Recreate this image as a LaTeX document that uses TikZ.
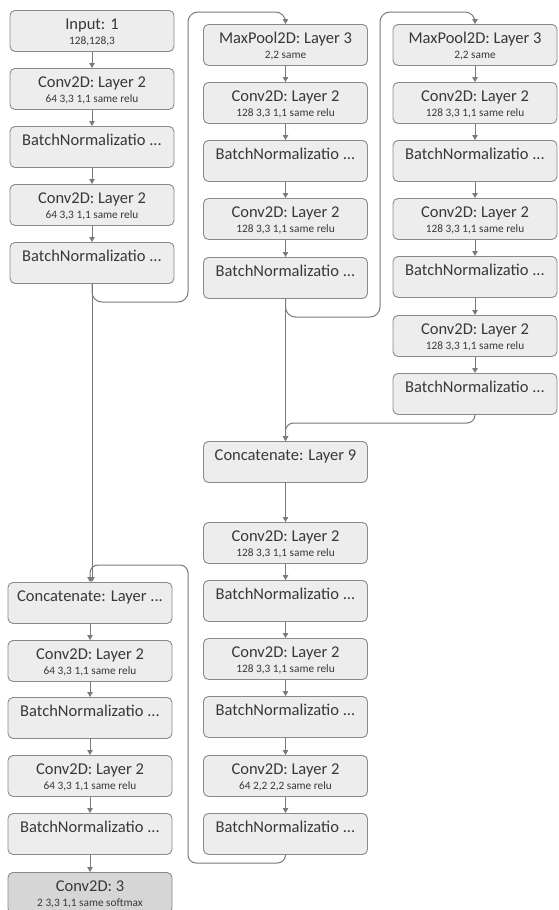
\documentclass[tikz,border=0pt]{standalone}
\usepackage{fontspec}
\setmainfont{Carlito}
\usetikzlibrary{arrows.meta}

\definecolor{boxfill}{HTML}{EDEDED}
\definecolor{boxline}{HTML}{8A8A8A}
\definecolor{outfill}{HTML}{D6D6D6}
\definecolor{wire}{HTML}{7A7A7A}
\definecolor{ink}{HTML}{383838}

\tikzset{
  layerbox/.style={draw=boxline, fill=boxfill, rounded corners=5pt,
    minimum width=164pt, minimum height=41pt, inner sep=0pt,
    anchor=north, line width=0.9pt},
  outbox/.style={layerbox, fill=outfill},
  ttl/.style={anchor=base, inner sep=0pt, text=ink,
    font=\fontsize{16.5}{18}\selectfont},
  subttl/.style={anchor=base, inner sep=0pt, text=ink,
    font=\fontsize{11.3}{12}\selectfont},
  flow/.style={draw=wire, line width=1pt,
    -{Triangle[length=5pt,width=5.5pt]}},
  loopwire/.style={flow, rounded corners=10pt},
  shortloop/.style={flow, rounded corners=8pt},
}

% layer box with a title line; \layerargs adds the parameter line
\newcommand\layer[5][layerbox]{%
  \node[#1] (#2) at (#3,#4) {};
  \node[ttl] (#2-t) at ([yshift=-19pt]#2.north) {#5};
}
\newcommand\layerargs[2]{%
  \node[subttl] (#1-s) at ([yshift=-34pt]#1.north) {#2};
}

\begin{document}
\begin{tikzpicture}[x=1pt,y=-1pt]
\useasboundingbox[fill=white] (0,0) rectangle (558,910);

% ---- encoder, first stage
\layer{in1}{92}{10}{Input: 1}\layerargs{in1}{128,128,3}
\layer{c1a}{92}{68}{Conv2D: Layer 2}\layerargs{c1a}{64 3,3 1,1 same relu}
\layer{b1a}{92}{126}{BatchNormalizatio ...}
\layer{c1b}{92}{184}{Conv2D: Layer 2}\layerargs{c1b}{64 3,3 1,1 same relu}
\layer{b1b}{92}{242}{BatchNormalizatio ...}

% ---- second stage
\layer{mp2}{285.5}{24}{MaxPool2D: Layer 3}\layerargs{mp2}{2,2 same}
\layer{c2a}{285.5}{82}{Conv2D: Layer 2}\layerargs{c2a}{128 3,3 1,1 same relu}
\layer{b2a}{285.5}{140}{BatchNormalizatio ...}
\layer{c2b}{285.5}{198}{Conv2D: Layer 2}\layerargs{c2b}{128 3,3 1,1 same relu}
\layer{b2b}{285.5}{257}{BatchNormalizatio ...}

% ---- third stage
\layer{mp3}{475}{24}{MaxPool2D: Layer 3}\layerargs{mp3}{2,2 same}
\layer{c3a}{475}{82}{Conv2D: Layer 2}\layerargs{c3a}{128 3,3 1,1 same relu}
\layer{b3a}{475}{140}{BatchNormalizatio ...}
\layer{c3b}{475}{198}{Conv2D: Layer 2}\layerargs{c3b}{128 3,3 1,1 same relu}
\layer{b3b}{475}{256}{BatchNormalizatio ...}
\layer{c3c}{475}{315}{Conv2D: Layer 2}\layerargs{c3c}{128 3,3 1,1 same relu}
\layer{b3c}{475}{373}{BatchNormalizatio ...}

% ---- decoder, middle column
\layer{cat9}{285.5}{441}{Concatenate: Layer 9}
\layer{c2c}{285.5}{522}{Conv2D: Layer 2}\layerargs{c2c}{128 3,3 1,1 same relu}
\layer{b2c}{285.5}{580}{BatchNormalizatio ...}
\layer{c2d}{285.5}{638}{Conv2D: Layer 2}\layerargs{c2d}{128 3,3 1,1 same relu}
\layer{b2d}{285.5}{696}{BatchNormalizatio ...}
\layer{c2e}{285.5}{755}{Conv2D: Layer 2}\layerargs{c2e}{64 2,2 2,2 same relu}
\layer{b2e}{285.5}{813}{BatchNormalizatio ...}

% ---- decoder, left column and output
\layer{cat1}{90}{582}{Concatenate: Layer ...}
\layer{c1c}{90}{640}{Conv2D: Layer 2}\layerargs{c1c}{64 3,3 1,1 same relu}
\layer{b1c}{90}{697}{BatchNormalizatio ...}
\layer{c1d}{90}{755}{Conv2D: Layer 2}\layerargs{c1d}{64 3,3 1,1 same relu}
\layer{b1d}{90}{813}{BatchNormalizatio ...}
\layer[outbox]{out}{90}{872}{Conv2D: 3}\layerargs{out}{2 3,3 1,1 same softmax}

% ---- straight links
\foreach \a/\b in {in1/c1a, c1a/b1a, b1a/c1b, c1b/b1b,
                   mp2/c2a, c2a/b2a, b2a/c2b, c2b/b2b,
                   mp3/c3a, c3a/b3a, b3a/c3b, c3b/b3b, b3b/c3c, c3c/b3c,
                   cat9/c2c, c2c/b2c, b2c/c2d, c2d/b2d, b2d/c2e, c2e/b2e,
                   cat1/c1c, c1c/b1c, b1c/c1d, c1d/b1d, b1d/out}
  \draw[flow] (\a) -- (\b);
\draw[flow] (b1b.south) -- (b1b.south |- cat1.north);
\draw[flow] (b2b) -- (cat9);

% ---- routed links
\draw[loopwire] (b1b.south) |- (188,302) -- (188,12) -| (mp2.north);
\draw[loopwire] (b2b.south) |- (380,317) -- (380,12) -| (mp3.north);
\draw[shortloop] (b3c.south) |- (cat9.north |- 0,423) -- (cat9.north);
\draw[shortloop] (b2e.south) |- (188,863) -- (188,565) -| (cat1.north);
\end{tikzpicture}
\end{document}
